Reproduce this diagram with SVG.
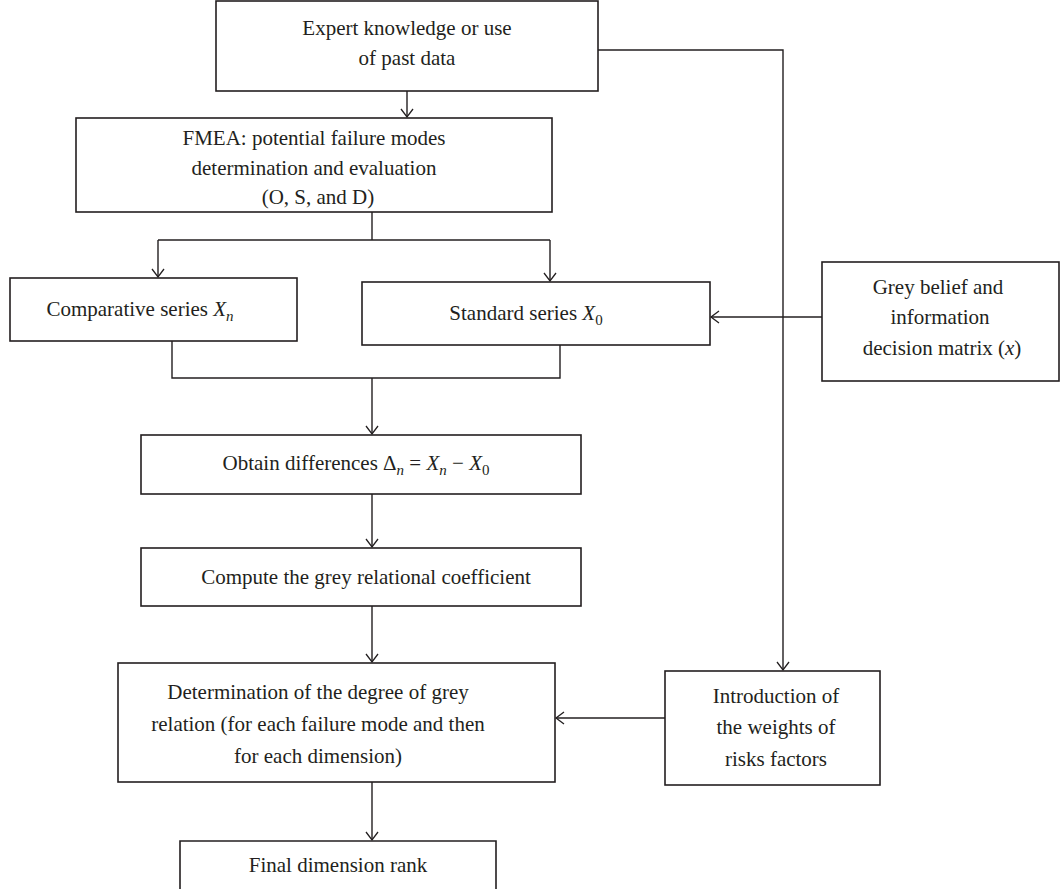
<svg xmlns="http://www.w3.org/2000/svg" width="1062" height="889" viewBox="0 0 1062 889">
  <style>
    .box { fill: #ffffff; stroke: #231f20; stroke-width: 1.6; }
    .wire { fill: none; stroke: #231f20; stroke-width: 1.4; }
    .lbl { font-family: "Liberation Serif", "Times New Roman", serif; font-size: 21px; fill: #231f20; text-anchor: middle; }
    .it { font-style: italic; }
    .sub { font-size: 15px; }
  </style>
  <defs>
    <marker id="vhead" markerUnits="userSpaceOnUse" markerWidth="14" markerHeight="16" viewBox="-10 -8 12 16" refX="0" refY="0" orient="auto">
      <path d="M-8,-6 L0,0 L-8,6" fill="none" stroke="#231f20" stroke-width="1.3"/>
    </marker>
  </defs>

  <rect width="1062" height="889" fill="#ffffff"/>

  <!-- connectors -->
  <g id="connectors">
    <path class="wire" d="M407,91 L407,117" marker-end="url(#vhead)"/>
    <path class="wire" d="M372,212 L372,240"/>
    <path class="wire" d="M158,240 L550,240"/>
    <path class="wire" d="M158,240 L158,277" marker-end="url(#vhead)"/>
    <path class="wire" d="M550,240 L550,281" marker-end="url(#vhead)"/>
    <path class="wire" d="M172,341 L172,378 L560,378 L560,345"/>
    <path class="wire" d="M372,378 L372,434" marker-end="url(#vhead)"/>
    <path class="wire" d="M372,494 L372,547" marker-end="url(#vhead)"/>
    <path class="wire" d="M372,606 L372,662" marker-end="url(#vhead)"/>
    <path class="wire" d="M372,782 L372,840" marker-end="url(#vhead)"/>
    <path class="wire" d="M598,50 L783,50 L783,670" marker-end="url(#vhead)"/>
    <path class="wire" d="M822,317 L711,317" marker-end="url(#vhead)"/>
    <path class="wire" d="M665,718 L556,718" marker-end="url(#vhead)"/>
  </g>

  <g id="expert">
    <rect class="box" x="216" y="1" width="382" height="90"/>
    <text class="lbl" x="407" y="35">Expert knowledge or use</text>
    <text class="lbl" x="407" y="65">of past data</text>
  </g>

  <g id="fmea">
    <rect class="box" x="76" y="118" width="476" height="94"/>
    <text class="lbl" x="314" y="145">FMEA: potential failure modes</text>
    <text class="lbl" x="314" y="175">determination and evaluation</text>
    <text class="lbl" x="318" y="204">(O, S, and D)</text>
  </g>

  <g id="comparative">
    <rect class="box" x="10" y="278" width="287" height="63"/>
    <text class="lbl" x="140" y="316">Comparative series <tspan class="it">X</tspan><tspan class="it sub" dy="5">n</tspan></text>
  </g>

  <g id="standard">
    <rect class="box" x="362" y="282" width="348" height="63"/>
    <text class="lbl" x="526" y="320">Standard series <tspan class="it">X</tspan><tspan class="sub" dy="5">0</tspan></text>
  </g>

  <g id="grey-belief">
    <rect class="box" x="822" y="262" width="237" height="119"/>
    <text class="lbl" x="938" y="294">Grey belief and</text>
    <text class="lbl" x="940" y="324">information</text>
    <text class="lbl" x="942" y="355">decision matrix (<tspan class="it">x</tspan>)</text>
  </g>

  <g id="differences">
    <rect class="box" x="141" y="435" width="440" height="59"/>
    <text class="lbl" x="356" y="470">Obtain differences Δ<tspan class="it sub" dy="5">n</tspan><tspan dy="-5"> = </tspan><tspan class="it">X</tspan><tspan class="it sub" dy="5">n</tspan><tspan dy="-5"> − </tspan><tspan class="it">X</tspan><tspan class="sub" dy="5">0</tspan></text>
  </g>

  <g id="coefficient">
    <rect class="box" x="141" y="548" width="440" height="58"/>
    <text class="lbl" x="366" y="584">Compute the grey relational coefficient</text>
  </g>

  <g id="relation">
    <rect class="box" x="118" y="663" width="437" height="119"/>
    <text class="lbl" x="318" y="699">Determination of the degree of grey</text>
    <text class="lbl" x="318" y="731">relation (for each failure mode and then</text>
    <text class="lbl" x="318" y="763">for each dimension)</text>
  </g>

  <g id="weights">
    <rect class="box" x="665" y="671" width="215" height="114"/>
    <text class="lbl" x="776" y="703">Introduction of</text>
    <text class="lbl" x="776" y="734">the weights of</text>
    <text class="lbl" x="776" y="766">risks factors</text>
  </g>

  <g id="final-rank">
    <path class="box" d="M180,895 L180,841 L496,841 L496,895"/>
    <text class="lbl" x="338" y="872">Final dimension rank</text>
  </g>
</svg>
